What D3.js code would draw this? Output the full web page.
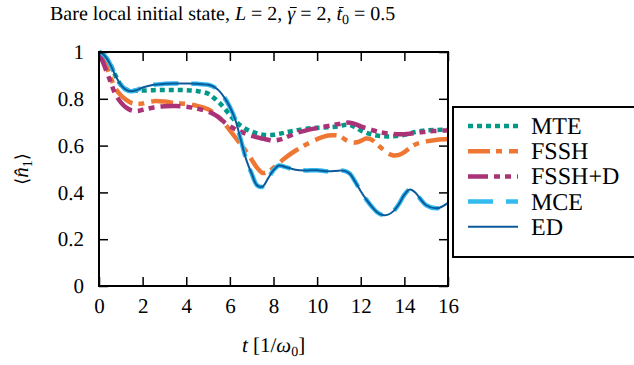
<!DOCTYPE html>
<html>
<head>
<meta charset="utf-8">
<script src="https://cdn.jsdelivr.net/npm/d3@7"></script>
<style>
  body { margin: 0; background: #fff; }
</style>
</head>
<body>
<svg></svg>
<script>
const size = {w: 634, h: 365};
const box = {l: 99, r: 448, t: 52, b: 286};
const serif = '"Liberation Serif", "Times New Roman", Times, serif';
const svg = d3.select('svg');

svg.attr('width', size.w)
    .attr('height', size.h)
    .attr('text-rendering', 'geometricPrecision')
    .style('font-family', serif);

// time grid shared by every series
const times = [0, 0.25, 0.5, 0.75, 1, 1.25, 1.5, 1.75, 2, 2.5, 3, 3.5, 4, 4.5, 5, 5.25, 5.5, 5.75,
    6, 6.25, 6.5, 6.75, 7, 7.25, 7.5, 7.75, 8, 8.25, 8.5, 9, 9.5, 10, 10.5, 11, 11.25, 11.5, 11.75,
    12, 12.25, 12.5, 12.75, 13, 13.25, 13.5, 13.75, 14, 14.25, 14.5, 14.75, 15, 15.5, 16];

const mte = [1.0, 0.985, 0.95, 0.90, 0.86, 0.84, 0.835, 0.834, 0.835, 0.837, 0.838, 0.838, 0.837, 0.833, 0.822, 0.805, 0.785, 0.76,
    0.73, 0.705, 0.685, 0.67, 0.66, 0.652, 0.647, 0.645, 0.646, 0.65, 0.655, 0.665, 0.672, 0.676, 0.678, 0.682, 0.688, 0.688, 0.678,
    0.665, 0.655, 0.648, 0.643, 0.64, 0.639, 0.64, 0.642, 0.646, 0.652, 0.658, 0.662, 0.665, 0.667, 0.668];

const fssh = [1.0, 0.96, 0.90, 0.845, 0.815, 0.795, 0.782, 0.778, 0.78, 0.79, 0.788, 0.782, 0.778, 0.77, 0.755, 0.74, 0.72, 0.695,
    0.665, 0.635, 0.605, 0.575, 0.54, 0.505, 0.483, 0.488, 0.505, 0.525, 0.545, 0.578, 0.605, 0.628, 0.643, 0.642, 0.628, 0.615, 0.613,
    0.62, 0.63, 0.625, 0.605, 0.585, 0.567, 0.558, 0.56, 0.572, 0.59, 0.605, 0.613, 0.618, 0.625, 0.628];

const fsshD = [1.0, 0.94, 0.88, 0.82, 0.785, 0.762, 0.75, 0.748, 0.753, 0.763, 0.768, 0.769, 0.766, 0.758, 0.745, 0.735, 0.72, 0.70,
    0.683, 0.67, 0.66, 0.65, 0.642, 0.635, 0.63, 0.625, 0.622, 0.625, 0.632, 0.652, 0.665, 0.675, 0.684, 0.692, 0.697, 0.698, 0.692,
    0.682, 0.674, 0.667, 0.66, 0.655, 0.652, 0.65, 0.649, 0.649, 0.651, 0.654, 0.657, 0.66, 0.663, 0.665];

const mce = [1.0, 0.985, 0.95, 0.90, 0.86, 0.838, 0.832, 0.838, 0.848, 0.86, 0.864, 0.865, 0.865, 0.864, 0.86, 0.852, 0.835, 0.805,
    0.765, 0.71, 0.625, 0.54, 0.48, 0.43, 0.425, 0.46, 0.495, 0.515, 0.51, 0.497, 0.494, 0.495, 0.49, 0.493, 0.492, 0.48, 0.445,
    0.405, 0.37, 0.34, 0.315, 0.303, 0.305, 0.32, 0.35, 0.39, 0.412, 0.40, 0.37, 0.345, 0.332, 0.355];

const ed = [1.0, 0.985, 0.95, 0.90, 0.86, 0.838, 0.832, 0.838, 0.848, 0.86, 0.864, 0.865, 0.865, 0.864, 0.86, 0.852, 0.835, 0.805,
    0.765, 0.71, 0.625, 0.54, 0.48, 0.43, 0.425, 0.46, 0.495, 0.515, 0.51, 0.497, 0.494, 0.495, 0.49, 0.493, 0.492, 0.48, 0.445,
    0.405, 0.37, 0.34, 0.315, 0.303, 0.305, 0.32, 0.35, 0.39, 0.412, 0.40, 0.37, 0.345, 0.332, 0.355];

const xTicks = [0, 2, 4, 6, 8, 10, 12, 14, 16];
const yTicks = [0, 0.2, 0.4, 0.6, 0.8, 1];

const series = [
    {name: 'MTE', values: mte, color: '#009988', width: 4.5, dash: '5,4'},
    {name: 'FSSH', values: fssh, color: '#EE7733', width: 4.5, dash: '22,6,6,7'},
    {name: 'FSSH+D', values: fsshD, color: '#AA3377', width: 4.5, dash: '20,6,6,5,6,6'},
    {name: 'MCE', values: mce, color: '#33BBEE', width: 4.5, dash: '25,13'},
    {name: 'ED', values: ed, color: '#0a5a9c', width: 2, dash: null}
];

const x = d3.scaleLinear().domain([0, 16]).range([box.l, box.r]);
const y = d3.scaleLinear().domain([0, 1]).range([box.b, box.t]);

svg.append('clipPath').attr('id', 'plotclip')
    .append('rect')
    .attr('x', box.l).attr('y', box.t - 3)
    .attr('width', box.r - box.l).attr('height', box.b - box.t + 3);

let line = d3.line()
    .x((d, i) => x(times[i]))
    .y(d => y(d))
    .curve(d3.curveCatmullRom.alpha(0.5));

let lines = svg.append('g').attr('clip-path', 'url(#plotclip)');
series.forEach(s => {
    lines.append('path')
        .attr('d', line(s.values))
        .attr('fill', 'none')
        .attr('stroke', s.color)
        .attr('stroke-width', s.width)
        .attr('stroke-dasharray', s.dash)
        .attr('stroke-linecap', 'butt');
});

// frame with inward ticks on all four sides
const tickLen = 9;
let axes = svg.append('g');
axes.append('g').attr('transform', 'translate(0,' + box.b + ')')
    .call(d3.axisBottom(x).tickValues(xTicks).tickSizeInner(-tickLen).tickSizeOuter(0).tickPadding(12));
axes.append('g').attr('transform', 'translate(0,' + box.t + ')')
    .call(d3.axisTop(x).tickValues(xTicks).tickSizeInner(-tickLen).tickSizeOuter(0).tickFormat(''));
axes.append('g').attr('transform', 'translate(' + box.l + ',0)')
    .call(d3.axisLeft(y).tickValues(yTicks).tickSizeInner(-tickLen).tickSizeOuter(0).tickPadding(15).tickFormat(d => d));
axes.append('g').attr('transform', 'translate(' + box.r + ',0)')
    .call(d3.axisRight(y).tickValues(yTicks).tickSizeInner(-tickLen).tickSizeOuter(0).tickFormat(''));

axes.selectAll('.domain').remove();
axes.selectAll('.tick line').attr('stroke', '#000').attr('stroke-width', 1.5);
axes.selectAll('g').attr('font-family', null).attr('font-size', null);
axes.selectAll('.tick text')
    .style('font-family', serif)
    .style('font-size', '21px');

svg.append('rect')
    .attr('x', box.l).attr('y', box.t)
    .attr('width', box.r - box.l).attr('height', box.b - box.t)
    .attr('fill', 'none').attr('stroke', '#000').attr('stroke-width', 2);

// title
let title = svg.append('text')
    .attr('x', 50).attr('y', 20)
    .style('font-family', serif)
    .style('font-size', '20px');
const titleParts = [
    {s: 'Bare local initial state, '},
    {s: 'L', it: true},
    {s: ' = 2, '},
    {s: '\u03B3', it: true, bar: true},
    {s: ' = 2, '},
    {s: 't', it: true, bar: true},
    {s: '0', sub: true},
    {s: ' = 0.5', up: true}
];
let charIdx = 0;
let bars = [];
titleParts.forEach(p => {
    let ts = title.append('tspan').text(p.s);
    if (p.it) ts.style('font-style', 'italic');
    if (p.sub) ts.style('font-size', '14px').attr('dy', 4);
    if (p.up) ts.attr('dy', -4);
    if (p.bar) bars.push(charIdx);
    charIdx += p.s.length;
});
bars.forEach(i => {
    let n = title.node();
    let a = n.getStartPositionOfChar(i), b = n.getEndPositionOfChar(i);
    svg.append('line')
        .attr('x1', a.x + 2.5).attr('x2', b.x + 1.5)
        .attr('y1', 20 - 12.5).attr('y2', 20 - 12.5)
        .attr('stroke', '#000').attr('stroke-width', 1);
});

// axis labels
let xl = svg.append('text')
    .attr('x', (box.l + box.r) / 2).attr('y', 352)
    .attr('text-anchor', 'middle')
    .style('font-family', serif)
    .style('font-size', '21px');
xl.append('tspan').style('font-style', 'italic').text('t');
xl.append('tspan').text(' [1/');
xl.append('tspan').style('font-style', 'italic').text('\u03C9');
xl.append('tspan').style('font-size', '14px').attr('dy', 4).text('0');
xl.append('tspan').attr('dy', -4).text(']');

let yl = svg.append('text')
    .attr('transform', 'translate(28,' + ((box.t + box.b) / 2) + ') rotate(-90)')
    .attr('text-anchor', 'middle')
    .style('font-family', serif)
    .style('font-size', '21px');
yl.append('tspan').style('font-family', '"DejaVu Serif", serif').style('font-size', '18px').text('\u27E8');
yl.append('tspan').style('font-style', 'italic').text('n\u0302');
yl.append('tspan').style('font-size', '14px').attr('dy', 4).text('1');
yl.append('tspan').attr('dy', -4).style('font-family', '"DejaVu Serif", serif').style('font-size', '18px').text('\u27E9');

// legend
let legend = svg.append('g');
legend.append('rect')
    .attr('x', 453).attr('y', 107)
    .attr('width', 200).attr('height', 150)
    .attr('fill', '#fff').attr('stroke', '#000').attr('stroke-width', 2);

let rows = legend.selectAll('g.row')
    .data(series)
    .enter()
    .append('g')
    .attr('transform', (d, i) => 'translate(0,' + (126 + i * 25.2) + ')');

rows.append('line')
    .attr('x1', 468).attr('x2', 518)
    .attr('stroke', d => d.color)
    .attr('stroke-width', d => d.width)
    .attr('stroke-dasharray', d => d.dash);

rows.append('text')
    .attr('x', 531).attr('y', 8)
    .style('font-family', serif)
    .style('font-size', '24px')
    .text(d => d.name);
</script>
</body>
</html>
